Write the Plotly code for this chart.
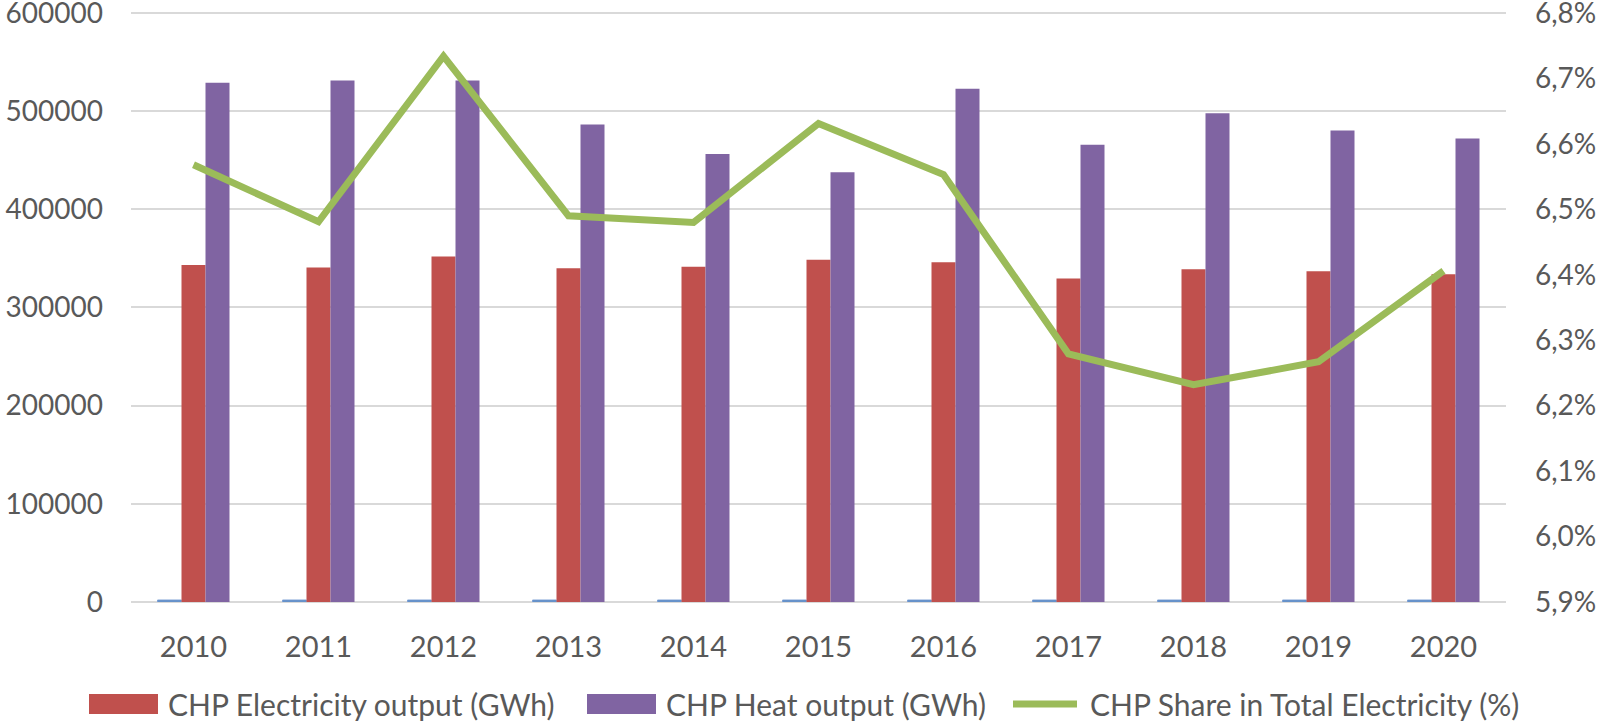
import plotly.graph_objects as go

years = ["2010", "2011", "2012", "2013", "2014", "2015", "2016", "2017", "2018", "2019", "2020"]
year_series = [2010, 2011, 2012, 2013, 2014, 2015, 2016, 2017, 2018, 2019, 2020]
electricity = [343300, 340600, 352000, 340000, 341500, 348500, 346000, 329600, 339000, 336800, 333800]
heat = [528800, 531100, 531100, 486500, 456400, 437700, 522900, 465700, 497900, 480300, 472000]
share = [6.568, 6.481, 6.734, 6.49, 6.48, 6.631, 6.553, 6.279, 6.232, 6.267, 6.406]

left_ticks = [0, 100000, 200000, 300000, 400000, 500000, 600000]
right_ticks = [5.9, 6.0, 6.1, 6.2, 6.3, 6.4, 6.5, 6.6, 6.7, 6.8]
right_labels = ["5,9%", "6,0%", "6,1%", "6,2%", "6,3%", "6,4%", "6,5%", "6,6%", "6,7%", "6,8%"]

names = ["CHP Electricity output (GWh)", "CHP Heat output (GWh)", "CHP Share in Total Electricity (%)"]
colors = ["#C0504D", "#8064A2", "#9BBB59"]

FONT = "Lato, 'Open Sans', sans-serif"
TXT = "#595959"
W, H = 1600, 722
ML, MR, MT, MB = 131, 94, 11, 120
PW, PH = W - ML - MR, H - MT - MB

# axis ranges padded slightly above the top tick so that the top tick/gridline is kept
Y1_MAX = 602000
Y2_MIN, Y2_MAX = 5.9, 5.9 + 0.9 * Y1_MAX / 600000

fig = go.Figure()
fig.add_trace(go.Bar(x=years, y=year_series, name="Year",
                     marker=dict(color="#4F81BD", line=dict(color="#7FA3D6", width=1)), showlegend=False))
fig.add_trace(go.Bar(x=years, y=electricity, name=names[0], marker=dict(color=colors[0], line=dict(width=0)),
                     showlegend=False))
fig.add_trace(go.Bar(x=years, y=heat, name=names[1], marker=dict(color=colors[1], line=dict(width=0)),
                     showlegend=False))
fig.add_trace(go.Scatter(x=years, y=share, name=names[2], yaxis="y2", mode="lines",
                         line=dict(color=colors[2], width=7), showlegend=False))


def px(x):
    return (x - ML) / PW


def py(y):
    return (H - MB - y) / PH


legend_items = [(89, 158, 166), (587, 656, 664), (1010, 1080, 1088)]
shapes = []
annotations = []
ly = 704
for i, (x0, x1, tx) in enumerate(legend_items):
    if i < 2:
        shapes.append(dict(type="rect", xref="paper", yref="paper", x0=px(x0), x1=px(x1), y0=py(ly + 10),
                           y1=py(ly - 10), fillcolor=colors[i], line=dict(width=0)))
    else:
        shapes.append(dict(type="line", xref="paper", yref="paper", x0=px(x0 + 3), x1=px(x1 - 3), y0=py(ly),
                           y1=py(ly), line=dict(color=colors[i], width=7)))
    annotations.append(dict(xref="paper", yref="paper", x=px(tx), y=py(ly), xanchor="left", yanchor="middle",
                            text=names[i], showarrow=False, font=dict(family=FONT, size=30, color=TXT)))

fig.update_layout(
    width=W, height=H,
    paper_bgcolor="white", plot_bgcolor="white",
    margin=dict(l=ML, r=MR, t=MT, b=MB, autoexpand=False),
    barmode="group", bargap=0.424, bargroupgap=0,
    showlegend=False,
    font=dict(family=FONT, size=30, color=TXT),
    xaxis=dict(showgrid=False, showline=False, ticks="", automargin=False, tickfont=dict(size=29, color=TXT),
               ticklabelstandoff=25, ticklabeloverflow="allow"),
    yaxis=dict(range=[0, Y1_MAX], tickvals=left_ticks, tickformat="d", showgrid=True, gridcolor="#D9D9D9",
               gridwidth=2, zeroline=True, zerolinecolor="#D9D9D9", zerolinewidth=2, showline=False, ticks="",
               automargin=False, tickfont=dict(size=28, color=TXT), ticklabelstandoff=27,
               ticklabeloverflow="allow"),
    yaxis2=dict(range=[Y2_MIN, Y2_MAX], tickvals=right_ticks, ticktext=right_labels, overlaying="y", side="right",
                showgrid=False, zeroline=False, showline=False, ticks="", automargin=False,
                tickfont=dict(size=28, color=TXT), ticklabelstandoff=28, ticklabeloverflow="allow"),
    shapes=shapes,
    annotations=annotations,
)

fig.write_html("out.html", config={"displayModeBar": False},
               post_script="document.body.style.margin='0';document.body.style.overflow='hidden';")
